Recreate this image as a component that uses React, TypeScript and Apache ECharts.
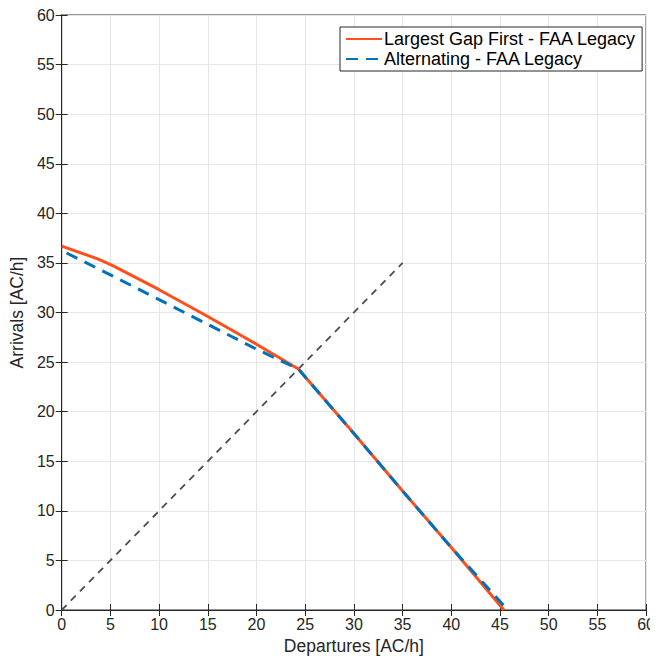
import React, { useEffect, useRef } from "react";
import * as echarts from "echarts";

const lgfDepartures = [0, 3.7, 5.3, 10, 15, 20, 24.3, 30, 35, 40, 45.4];
const lgfArrivals = [36.7, 35.4, 34.7, 32.3, 29.6, 26.8, 24.3, 17.8, 12.0, 6.3, 0];
const altDepartures = [0.5, 5, 10, 15, 20, 24.3, 30, 35, 40, 45.8];
const altArrivals = [36.0, 33.8, 31.3, 28.8, 26.3, 24.3, 17.8, 12.0, 6.3, 0];
const refDepartures = [0, 35];
const refArrivals = [0, 35];

const seriesNames = ["Largest Gap First - FAA Legacy", "Alternating - FAA Legacy"];
const FONT = "Liberation Sans, Arial, Helvetica, sans-serif";

const zip = (xs: number[], ys: number[]) => xs.map((x, i) => [x, ys[i]]);

export default function App() {
  const ref = useRef<HTMLDivElement>(null);
  useEffect(() => {
    if (!ref.current) return;
    const chart = echarts.init(ref.current, undefined, { renderer: "svg" });
    const axisCommon = {
      type: "value" as const,
      min: 0,
      max: 60,
      interval: 5,
      axisLine: { show: true, lineStyle: { color: "#262626", width: 1 } },
      axisTick: { show: true, inside: true, length: 6, lineStyle: { color: "#262626" } },
      axisLabel: { color: "#262626", fontSize: 16, fontFamily: FONT },
      splitLine: { show: true, lineStyle: { color: "#e6e6e6", width: 1 } },
      nameTextStyle: { color: "#262626", fontSize: 17.5, fontFamily: FONT },
    };
    chart.setOption({
      animation: false,
      backgroundColor: "#ffffff",
      grid: { left: 60, right: 8, top: 15, bottom: 48, show: true, borderColor: "#262626", borderWidth: 1 },
      legend: {
        orient: "vertical",
        left: 340,
        top: 27,
        backgroundColor: "#ffffff",
        borderColor: "#262626",
        borderWidth: 1,
        borderRadius: 0,
        padding: [3, 6, 3, 5],
        itemGap: 2,
        itemWidth: 36,
        itemHeight: 18,
        itemStyle: { opacity: 0 },
        textStyle: { color: "#000000", fontSize: 18, fontFamily: FONT, padding: [0, 0, 0, -3] },
        data: seriesNames,
      },
      xAxis: [
        { ...axisCommon, name: "Departures [AC/h]", nameLocation: "middle", nameGap: 27, axisLabel: { ...axisCommon.axisLabel, margin: 6 } },
        { ...axisCommon, position: "top", axisLabel: { show: false }, splitLine: { show: false } },
      ],
      yAxis: [
        { ...axisCommon, name: "Arrivals [AC/h]", nameLocation: "middle", nameGap: 32, axisLabel: { ...axisCommon.axisLabel, margin: 7 } },
        { ...axisCommon, position: "right", axisLabel: { show: false }, splitLine: { show: false } },
      ],
      series: [
        {
          name: "reference",
          type: "line",
          data: zip(refDepartures, refArrivals),
          showSymbol: false,
          symbol: "none",
          lineStyle: { color: "#4d4d4d", width: 1.8, type: [7, 6] },
          silent: true,
        },
        {
          name: seriesNames[0],
          type: "line",
          data: zip(lgfDepartures, lgfArrivals),
          symbol: "none",
          lineStyle: { color: "#ff4f1a", width: 3 },
          itemStyle: { color: "#ff4f1a" },
        },
        {
          name: seriesNames[1],
          type: "line",
          data: zip(altDepartures, altArrivals),
          symbol: "none",
          lineStyle: { color: "#0072bd", width: 3, type: [12, 8] },
          itemStyle: { color: "#0072bd" },
        },
      ],
    });
    return () => chart.dispose();
  }, []);
  return <div ref={ref} style={{ width: 658, height: 660, marginLeft: -8, marginTop: -8 }} />;
}
